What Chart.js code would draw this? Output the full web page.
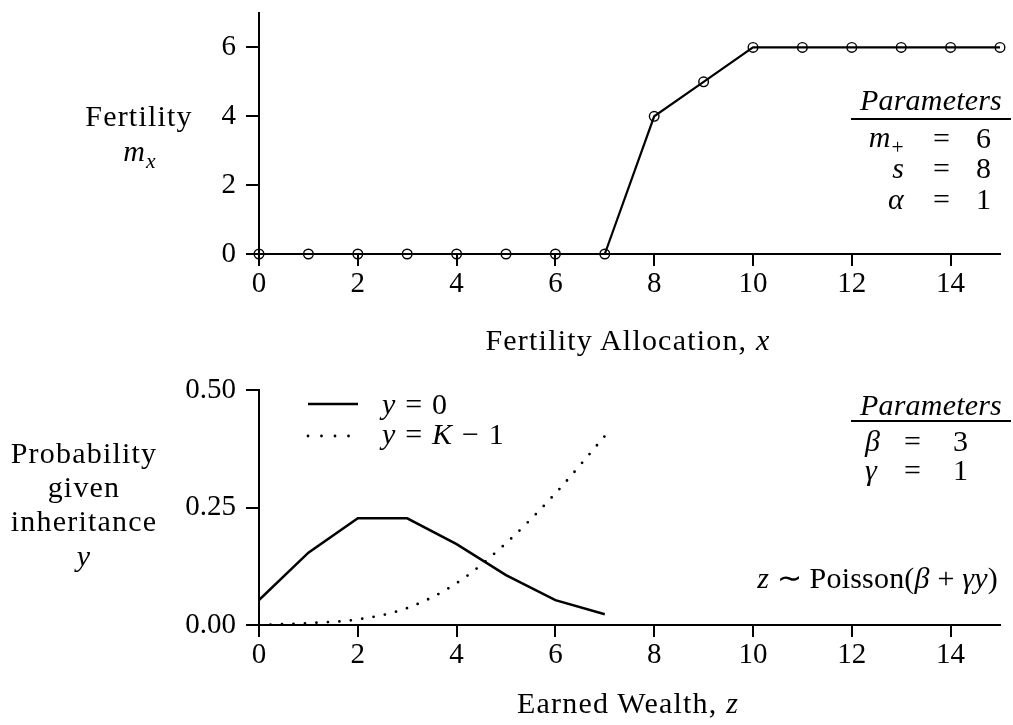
<!DOCTYPE html>
<html>
<head>
<meta charset="utf-8">
<script src="https://cdn.jsdelivr.net/npm/chart.js@4.4.1/dist/chart.umd.min.js"></script>
<style>
  body { margin: 0; background: #fff; }
  #page { position: relative; width: 1013px; height: 725px; background: #fff; overflow: hidden; }
  canvas { position: absolute; left: 0; }
  .t { position: absolute; font-family: 'Liberation Serif', serif; font-size: 30px; line-height: 34px;
       letter-spacing: 1.2px; color: #000; white-space: nowrap; transform: translate(-50%, -50%); }
  .l { transform: translate(0, -50%); }
  .r { transform: translate(-100%, -50%); }
  .n { letter-spacing: 0.2px; }
  .sub { font-size: 0.72em; position: relative; top: 0.32em; }
  .rule { position: absolute; height: 2px; background: #000; }
</style>
</head>
<body>
<div id="page">
  <canvas id="top" width="1013" height="360" style="top:0"></canvas>
  <canvas id="bottom" width="1013" height="365" style="top:360px"></canvas>

  <!-- top panel text -->
  <div class="t" style="left:139px; top:116px">Fertility</div>
  <div class="t" style="left:140px; top:152px"><i>m</i><i class="sub">x</i></div>
  <div class="t" style="left:628px; top:340px">Fertility Allocation, <i>x</i></div>

  <div class="t n" style="left:931px; top:100px"><i>Parameters</i></div>
  <div class="rule" style="left:851px; top:118px; width:160px"></div>
  <div class="t r" style="left:905px; top:138px"><i>m</i><span class="sub">+</span></div>
  <div class="t" style="left:942px; top:138px">=</div>
  <div class="t" style="left:984px; top:138px">6</div>
  <div class="t r" style="left:905px; top:168px"><i>s</i></div>
  <div class="t" style="left:942px; top:168px">=</div>
  <div class="t" style="left:984px; top:168px">8</div>
  <div class="t r" style="left:905px; top:199px"><i>α</i></div>
  <div class="t" style="left:942px; top:199px">=</div>
  <div class="t" style="left:984px; top:199px">1</div>

  <!-- bottom panel text -->
  <div class="t" style="left:84px; top:453px">Probability</div>
  <div class="t" style="left:84px; top:487px">given</div>
  <div class="t" style="left:84px; top:521px">inheritance</div>
  <div class="t" style="left:84px; top:556px"><i>y</i></div>
  <div class="t" style="left:628px; top:703px">Earned Wealth, <i>z</i></div>

  <div class="t l" style="left:382px; top:404px"><i>y</i> = 0</div>
  <div class="t l" style="left:382px; top:434px"><i>y</i> = <i>K</i> − 1</div>

  <div class="t n" style="left:931px; top:405px"><i>Parameters</i></div>
  <div class="rule" style="left:851px; top:420px; width:160px"></div>
  <div class="t l" style="left:865px; top:441px"><i>β</i></div>
  <div class="t" style="left:913px; top:441px">=</div>
  <div class="t" style="left:961px; top:441px">3</div>
  <div class="t l" style="left:865px; top:470px"><i>γ</i></div>
  <div class="t" style="left:913px; top:470px">=</div>
  <div class="t" style="left:961px; top:470px">1</div>

  <div class="t r n" style="left:998px; top:578px"><i>z</i> ∼ Poisson(<i>β</i> + <i>γy</i>)</div>
</div>

<script>
// top panel: fertility schedule
const allocation = [0, 1, 2, 3, 4, 5, 6, 7, 8, 9, 10, 11, 12, 13, 14, 15];
const fertility = [0, 0, 0, 0, 0, 0, 0, 0, 4, 5, 6, 6, 6, 6, 6, 6];
const topXTicks = [0, 2, 4, 6, 8, 10, 12, 14];
const topYTicks = [0, 2, 4, 6];

// bottom panel: earned wealth probabilities
const wealth = [0, 1, 2, 3, 4, 5, 6, 7];
const probLow = [0.053, 0.154, 0.227, 0.227, 0.172, 0.106, 0.053, 0.023];
const probHigh = [0.0, 0.004, 0.012, 0.036, 0.089, 0.174, 0.280, 0.402];
const bottomXTicks = [0, 2, 4, 6, 8, 10, 12, 14];
const bottomYTicks = [0, 0.25, 0.5];

Chart.defaults.font.family = "'Liberation Serif', serif";
Chart.defaults.font.size = 29;
Chart.defaults.color = '#000';

function axis(min, max, ticks, opts) {
    return {
        type: 'linear',
        min: min,
        max: max,
        afterBuildTicks: function(s) {
            s.ticks = ticks.map(function(v) { return { value: v }; });
        },
        afterFit: function(s) {
            if (opts.width) s.width = opts.width;
            if (opts.height) s.height = opts.height;
            s.paddingTop = 0; s.paddingBottom = 0;
            s.paddingLeft = 0; s.paddingRight = 0;
        },
        grid: {
            drawOnChartArea: false,
            drawTicks: true,
            tickLength: opts.tickLength,
            color: '#000',
            lineWidth: 2
        },
        border: { display: true, color: '#000', width: 2 },
        ticks: {
            padding: opts.padding,
            color: '#000',
            autoSkip: false,
            maxRotation: 0,
            callback: opts.format || function(v) { return String(v); }
        }
    };
}

new Chart(document.getElementById('top'), {
    type: 'line',
    data: {
        datasets: [{
            data: allocation.map(function(x, i) { return { x: x, y: fertility[i] }; }),
            borderColor: '#000',
            borderWidth: 2.2,
            pointRadius: 4.8,
            pointBorderWidth: 1.4,
            pointBorderColor: '#000',
            pointBackgroundColor: 'rgba(0,0,0,0)',
            clip: false,
            tension: 0
        }]
    },
    options: {
        responsive: false,
        animation: false,
        layout: { padding: { left: 0, right: 13, top: 13, bottom: 0 } },
        plugins: { legend: { display: false }, tooltip: { enabled: false } },
        scales: {
            x: axis(0, 15, topXTicks, { height: 106, tickLength: 12, padding: 1 }),
            y: axis(0, 7, topYTicks, { width: 259, tickLength: 13, padding: 10 })
        }
    }
});

// legend samples drawn with the datasets' own styles
const legendSamples = {
    id: 'legendSamples',
    afterDatasetsDraw: function(chart) {
        const ctx = chart.ctx;
        const rows = [[44, 358], [76, 350]];
        chart.data.datasets.forEach(function(ds, i) {
            ctx.save();
            ctx.strokeStyle = ds.borderColor;
            ctx.lineWidth = ds.borderWidth;
            ctx.lineCap = ds.borderCapStyle || 'butt';
            ctx.setLineDash(i === 1 ? [0, 13.5] : []);
            ctx.beginPath();
            ctx.moveTo(308, rows[i][0]);
            ctx.lineTo(rows[i][1], rows[i][0]);
            ctx.stroke();
            ctx.restore();
        });
    }
};

new Chart(document.getElementById('bottom'), {
    type: 'line',
    data: {
        datasets: [{
            label: 'y = 0',
            data: wealth.map(function(z, i) { return { x: z, y: probLow[i] }; }),
            borderColor: '#000',
            borderWidth: 2.5,
            pointRadius: 0,
            tension: 0
        }, {
            label: 'y = K - 1',
            data: wealth.map(function(z, i) { return { x: z, y: probHigh[i] }; }),
            borderColor: '#000',
            borderWidth: 2.8,
            borderDash: [0, 11.5],
            borderCapStyle: 'round',
            pointRadius: 0,
            cubicInterpolationMode: 'monotone'
        }]
    },
    options: {
        responsive: false,
        animation: false,
        layout: { padding: { left: 0, right: 13, top: 30, bottom: 0 } },
        plugins: { legend: { display: false }, tooltip: { enabled: false } },
        scales: {
            x: axis(0, 15, bottomXTicks, { height: 100, tickLength: 12, padding: 1 }),
            y: axis(0, 0.5, bottomYTicks, { width: 259, tickLength: 13, padding: 10,
                format: function(v) { return v.toFixed(2); } })
        }
    },
    plugins: [legendSamples]
});
</script>
</body>
</html>
